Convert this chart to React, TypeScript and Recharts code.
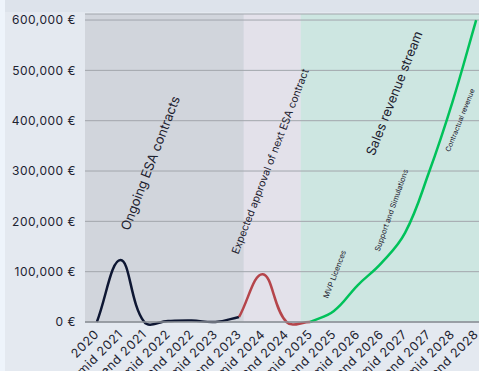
import {
  LineChart,
  Line,
  XAxis,
  YAxis,
  CartesianGrid,
  ReferenceArea,
  ReferenceDot,
} from 'recharts';

const periods = [
  '2020', 'mid 2021', 'end 2021', 'mid 2022', 'end 2022', 'mid 2023', 'end 2023',
  'mid 2024', 'end 2024', 'mid 2025', 'end 2025', 'mid 2026', 'end 2026',
  'mid 2027', 'end 2027', 'mid 2028', 'end 2028',
];

// revenue in € per period, split by phase
const ongoingEsa = [0, 123000, 0, 2000, 3000, 0, 10000, null, null, null, null, null, null, null, null, null, null];
const nextEsa = [null, null, null, null, null, null, 10000, 95000, 0, 0, null, null, null, null, null, null, null];
const salesRevenue = [null, null, null, null, null, null, null, null, null, 0, 22000, 73000, 117000, 177000, 296000, 437000, 600000];

const yTicks = [0, 100000, 200000, 300000, 400000, 500000, 600000];

// phase boundaries, in period index units
const phaseBounds = [-0.5, 6.2, 8.6, 16.5];
const phaseColors = ['#d1d5dc', '#e3e1ea', '#cde6e1'];

// annotation text with anchor (period index, value)
const notes = [
  { text: 'Ongoing ESA contracts', x: 2.24, y: 316000 },
  { text: 'Expected approval of next ESA contract', x: 7.32, y: 319000 },
  { text: 'Sales revenue stream', x: 12.53, y: 455000 },
  { text: 'MVP Licences', x: 10.04, y: 95000 },
  { text: 'Support and Simulations', x: 12.43, y: 222000 },
  { text: 'Contractual revenue', x: 15.32, y: 401000 },
];
const noteSizes = [13, 10.5, 13, 7.5, 7.5, 7];
const noteAngles = [-69, -69, -68.5, -69, -70.5, -68];

const data = periods.map((period, i) => ({
  i,
  period,
  ongoing: ongoingEsa[i],
  next: nextEsa[i],
  sales: salesRevenue[i],
}));

const FONT = 'Inter, "DejaVu Sans", sans-serif';

const formatEuro = (v: number) => `${v.toLocaleString('en-US')} €`;

// cardinal-style spline with tension, like the smoothed lines in the original
const tensionCurve = (context: any) => {
  let pts: number[][] = [];
  const t = 0.4;
  return {
    areaStart() {},
    areaEnd() {},
    lineStart() {
      pts = [];
    },
    point(x: number, y: number) {
      pts.push([+x, +y]);
    },
    lineEnd() {
      if (!pts.length) return;
      const n = pts.length;
      const ctrl = pts.map((p, i) => {
        const a = pts[i - 1] || p;
        const b = pts[i + 1] || p;
        const d01 = Math.hypot(p[0] - a[0], p[1] - a[1]);
        const d12 = Math.hypot(b[0] - p[0], b[1] - p[1]);
        const s = d01 + d12 || 1;
        const fa = (t * d01) / s;
        const fb = (t * d12) / s;
        return {
          prev: [p[0] - fa * (b[0] - a[0]), p[1] - fa * (b[1] - a[1])],
          next: [p[0] + fb * (b[0] - a[0]), p[1] + fb * (b[1] - a[1])],
        };
      });
      context.moveTo(pts[0][0], pts[0][1]);
      for (let i = 1; i < n; i++) {
        const c1 = ctrl[i - 1].next;
        const c2 = ctrl[i].prev;
        context.bezierCurveTo(c1[0], c1[1], c2[0], c2[1], pts[i][0], pts[i][1]);
      }
    },
  };
};

function PeriodTick({ x, y, payload }: any) {
  const label = periods[payload.value] ?? '';
  return (
    <text
      transform={`translate(${x + 3},${y + 5}) rotate(-45)`}
      textAnchor="end"
      fontSize={12.5}
      fontFamily={FONT}
      fill="#1d2331"
      letterSpacing={0.6}
    >
      {label}
    </text>
  );
}

export default function App() {
  return (
    <div style={{ width: 479, height: 371, overflow: 'hidden', background: '#eef4fb', position: 'relative' }}>
      <style>{'body{margin:0}'}</style>
      <div
        style={{
          position: 'absolute',
          left: 5,
          top: 0,
          width: 474,
          height: 371,
          background: 'linear-gradient(#dde3eb 0px, #dde3eb 12px, #e4e9f0 12px)',
        }}
      />
      <div style={{ position: 'absolute', left: 0, top: 0 }}>
        <LineChart width={490} height={371} data={data} margin={{ top: 14, right: 2, bottom: 0, left: 0 }}>
          {phaseColors.map((color, k) => (
            <ReferenceArea
              key={k}
              x1={phaseBounds[k]}
              x2={phaseBounds[k + 1]}
              fill={color}
              fillOpacity={1}
              stroke="none"
              zIndex={-200}
            />
          ))}
          <CartesianGrid vertical={false} stroke="#a2a6ac" strokeWidth={1} />
          <XAxis
            dataKey="i"
            type="number"
            domain={[-0.5, 16.5]}
            ticks={periods.map((_, i) => i)}
            interval={0}
            tick={<PeriodTick />}
            tickLine={false}
            axisLine={{ stroke: '#8d9298', strokeWidth: 1.5 }}
            height={49}
          />
          <YAxis
            type="number"
            domain={[0, 612000]}
            ticks={yTicks}
            tickFormatter={formatEuro}
            tickLine={false}
            axisLine={false}
            width={85}
            tickMargin={3}
            tick={{ fontSize: 12, fontFamily: FONT, fill: '#1d2331', letterSpacing: 0.5 }}
          />
          <Line dataKey="ongoing" type={tensionCurve as any} stroke="#0e1733" strokeWidth={2.5} dot={false} activeDot={false} isAnimationActive={false} />
          <Line dataKey="next" type={tensionCurve as any} stroke="#b5454b" strokeWidth={2.5} dot={false} activeDot={false} isAnimationActive={false} />
          <Line dataKey="sales" type={tensionCurve as any} stroke="#00c25a" strokeWidth={2.5} dot={false} activeDot={false} isAnimationActive={false} />
          {notes.map((n, k) => (
            <ReferenceDot
              key={n.text}
              x={n.x}
              y={n.y}
              r={0}
              isFront
              shape={(p: any) => (
                <text
                  transform={`translate(${p.cx},${p.cy}) rotate(${noteAngles[k]})`}
                  textAnchor="middle"
                  dominantBaseline="central"
                  fontSize={noteSizes[k]}
                  fontFamily={FONT}
                  fill="#1e2230"
                >
                  {n.text}
                </text>
              )}
            />
          ))}
        </LineChart>
      </div>
    </div>
  );
}
